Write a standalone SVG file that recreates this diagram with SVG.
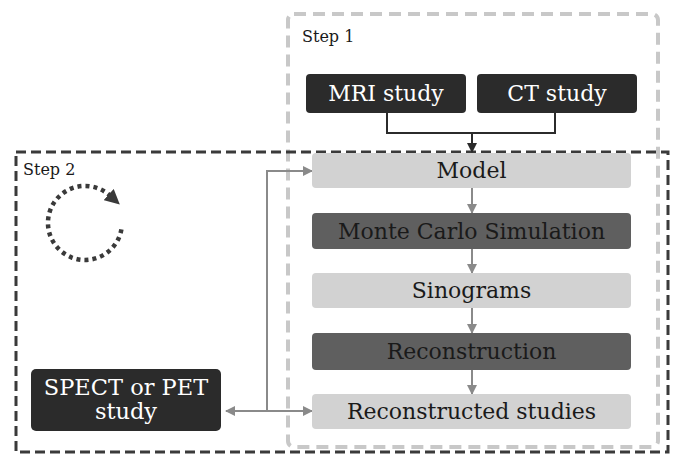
<svg xmlns="http://www.w3.org/2000/svg" width="675" height="456" viewBox="0 0 675 456">
  <defs>
    <style>
      text { font-family: 'DejaVu Serif', serif; }
      .lbl { font-size: 22px; text-anchor: middle; }
      .step { font-size: 16px; fill: #1a1a1a; }
      .dark { fill: #2b2b2b; }
      .mid { fill: #5f5f5f; }
      .light { fill: #d2d2d2; }
      .wt { fill: #ffffff; }
      .bt { fill: #1a1a1a; }
      .flow { stroke: #8a8a8a; stroke-width: 2; fill: none; }
      .join { stroke: #2b2b2b; stroke-width: 2; fill: none; }
    </style>
    <marker id="arrGray" viewBox="0 0 10 10" refX="9" refY="5" markerWidth="11" markerHeight="10" orient="auto-start-reverse" markerUnits="userSpaceOnUse">
      <path d="M0,0 L10,5 L0,10 z" fill="#8a8a8a"/>
    </marker>
    <marker id="arrDark" viewBox="0 0 10 10" refX="9" refY="5" markerWidth="12" markerHeight="10" orient="auto" markerUnits="userSpaceOnUse">
      <path d="M0,0 L10,5 L0,10 z" fill="#2b2b2b"/>
    </marker>
    <marker id="arrLoop" viewBox="0 0 10 10" refX="1" refY="5" markerWidth="15" markerHeight="15" orient="auto" markerUnits="userSpaceOnUse">
      <path d="M0,0 L10,5 L0,10 z" fill="#3a3a3a"/>
    </marker>
  </defs>

  <rect width="675" height="456" fill="#ffffff"/>

  <!-- Step 1 frame -->
  <g id="step1">
    <rect x="288" y="14" width="370" height="433" rx="6" fill="none" stroke="#c8c8c8" stroke-width="4" stroke-dasharray="12 7"/>
    <text class="step" x="302" y="42">Step 1</text>
  </g>

  <!-- Step 2 frame with iteration loop -->
  <g id="step2">
    <rect x="16" y="152" width="652" height="300" fill="none" stroke="#3a3a3a" stroke-width="3" stroke-dasharray="10 5"/>
    <text class="step" x="23" y="175">Step 2</text>
    <path d="M121.4,229.4 A37,37 0 1 1 109.8,195.5" fill="none" stroke="#3a3a3a" stroke-width="4.5" stroke-dasharray="4 4" marker-end="url(#arrLoop)"/>
  </g>

  <!-- Connectors -->
  <g id="connectors">
    <path class="join" d="M387,113 V133 H555 V113"/>
    <path class="join" d="M472,133 V152" marker-end="url(#arrDark)"/>
    <path class="flow" d="M472,188 V213" marker-end="url(#arrGray)"/>
    <path class="flow" d="M472,249 V273" marker-end="url(#arrGray)"/>
    <path class="flow" d="M472,308 V333" marker-end="url(#arrGray)"/>
    <path class="flow" d="M472,370 V394" marker-end="url(#arrGray)"/>
    <path class="flow" d="M267,411 V171 H312" marker-end="url(#arrGray)"/>
    <path class="flow" d="M226,411 H312" marker-start="url(#arrGray)" marker-end="url(#arrGray)"/>
  </g>

  <g id="mri">
    <rect class="dark" x="306" y="74" width="160" height="39" rx="4"/>
    <text class="lbl wt" x="386" y="101">MRI study</text>
  </g>
  <g id="ct">
    <rect class="dark" x="477" y="74" width="160" height="39" rx="4"/>
    <text class="lbl wt" x="557" y="101">CT study</text>
  </g>

  <g id="model">
    <rect class="light" x="312" y="153" width="319" height="35" rx="4"/>
    <text class="lbl bt" x="471.5" y="178">Model</text>
  </g>
  <g id="montecarlo">
    <rect class="mid" x="312" y="213" width="319" height="36" rx="4"/>
    <text class="lbl bt" x="471.5" y="239">Monte Carlo Simulation</text>
  </g>
  <g id="sinograms">
    <rect class="light" x="312" y="273" width="319" height="35" rx="4"/>
    <text class="lbl bt" x="471.5" y="298">Sinograms</text>
  </g>
  <g id="reconstruction">
    <rect class="mid" x="312" y="333" width="319" height="37" rx="4"/>
    <text class="lbl bt" x="471.5" y="359">Reconstruction</text>
  </g>
  <g id="reconstructed">
    <rect class="light" x="312" y="394" width="319" height="35" rx="4"/>
    <text class="lbl bt" x="471.5" y="419">Reconstructed studies</text>
  </g>

  <g id="spect">
    <rect class="dark" x="31" y="369" width="190" height="62" rx="5"/>
    <text class="lbl wt" x="126" y="395" style="font-size:22.5px">SPECT or PET</text>
    <text class="lbl wt" x="126" y="419" style="font-size:22.5px">study</text>
  </g>
</svg>
